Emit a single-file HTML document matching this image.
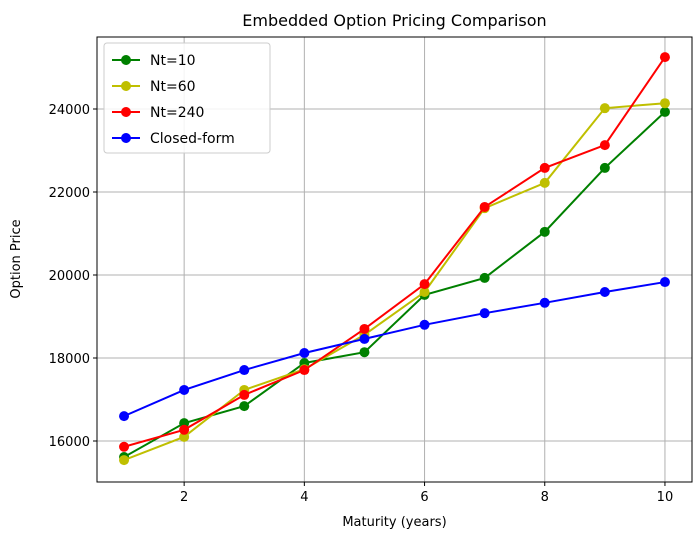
<!DOCTYPE html>
<html><head><meta charset="utf-8"><style>
body{margin:0;background:#fff;font-family:"Liberation Sans","DejaVu Sans",sans-serif;}
svg text{font-family:"DejaVu Sans","Liberation Sans",sans-serif;}
</style></head><body>
<svg id="chart" width="700" height="541" xmlns="http://www.w3.org/2000/svg"></svg>
<script>
const maturities=[1,2,3,4,5,6,7,8,9,10];
const nt10=[15614,16430,16840,17880,18140,19520,19930,21040,22580,23930];
const nt60=[15540,16100,17230,17730,18560,19590,21610,22220,24020,24140];
const nt240=[15860,16270,17110,17710,18700,19780,21640,22580,23130,25250];
const closedForm=[16600,17230,17710,18120,18460,18800,19080,19330,19590,19830];
const xTicks=[2,4,6,8,10];
const yTicks=[16000,18000,20000,22000,24000];
const seriesNames=["Nt=10","Nt=60","Nt=240","Closed-form"];
const colors=["#008000","#bfbf00","#ff0000","#0000ff"];

const L=97,R=692,T=37,B=482;
const xMin=0.55,xMax=10.45,yMin=15012,yMax=25735;
const X=v=>L+(v-xMin)/(xMax-xMin)*(R-L);
const Y=v=>B-(v-yMin)/(yMax-yMin)*(B-T);
const svg=document.getElementById('chart');
const NS="http://www.w3.org/2000/svg";
function mk(tag,attrs,parent){const e=document.createElementNS(NS,tag);for(const k in attrs)e.setAttribute(k,attrs[k]);(parent||svg).appendChild(e);return e;}

const grid=mk('g',{});


xTicks.forEach(t=>{mk('line',{x1:X(t),x2:X(t),y1:T,y2:B,stroke:'#b0b0b0','stroke-width':1},grid);});
yTicks.forEach(t=>{mk('line',{x1:L,x2:R,y1:Y(t),y2:Y(t),stroke:'#b0b0b0','stroke-width':1},grid);});

const all=[nt10,nt60,nt240,closedForm];
all.forEach((s,i)=>{
  const g=mk('g',{});
  
  
  mk('polyline',{points:s.map((v,j)=>X(maturities[j])+','+Y(v)).join(' '),fill:'none',stroke:colors[i],'stroke-width':2},g);
  s.forEach((v,j)=>{
    const c=mk('circle',{cx:X(maturities[j]),cy:Y(v),r:5,fill:colors[i]},g);
    
    
  });
});

const frame=mk('rect',{x:L,y:T,width:R-L,height:B-T,fill:'none',stroke:'#000','stroke-width':1});



xTicks.forEach(t=>{
  mk('line',{x1:X(t),x2:X(t),y1:B,y2:B+4,stroke:'#000'});
  const tx=mk('text',{x:X(t),y:B+19,'text-anchor':'middle','font-size':13});
  tx.textContent=t;
  
  
});
yTicks.forEach(t=>{
  mk('line',{x1:L-4,x2:L,y1:Y(t),y2:Y(t),stroke:'#000'});
  const tx=mk('text',{x:L-7,y:Y(t)+5,'text-anchor':'end','font-size':13});
  tx.textContent=t;
  
  
});

const title=mk('text',{x:(L+R)/2,y:26,'text-anchor':'middle','font-size':16});
title.textContent='Embedded Option Pricing Comparison';


const xl=mk('text',{x:(L+R)/2,y:526,'text-anchor':'middle','font-size':13});
xl.textContent='Maturity (years)';


const yl=mk('text',{x:0,y:0,'text-anchor':'middle','font-size':13,transform:'translate(20,259) rotate(-90)'});
yl.textContent='Option Price';



const lg=mk('g',{});


mk('rect',{x:104,y:43,width:166,height:110,rx:3,fill:'#fff','fill-opacity':0.85,stroke:'#ccc'},lg);
seriesNames.forEach((n,i)=>{
  const y=60+i*26;
  const e=mk('g',{},lg);
  
  
  mk('line',{x1:112,x2:140,y1:y,y2:y,stroke:colors[i],'stroke-width':2},e);
  mk('circle',{cx:126,cy:y,r:5,fill:colors[i]},e);
  const t=mk('text',{x:150,y:y+5,'font-size':14},e);
  t.textContent=n;
});
</script>
</body></html>
